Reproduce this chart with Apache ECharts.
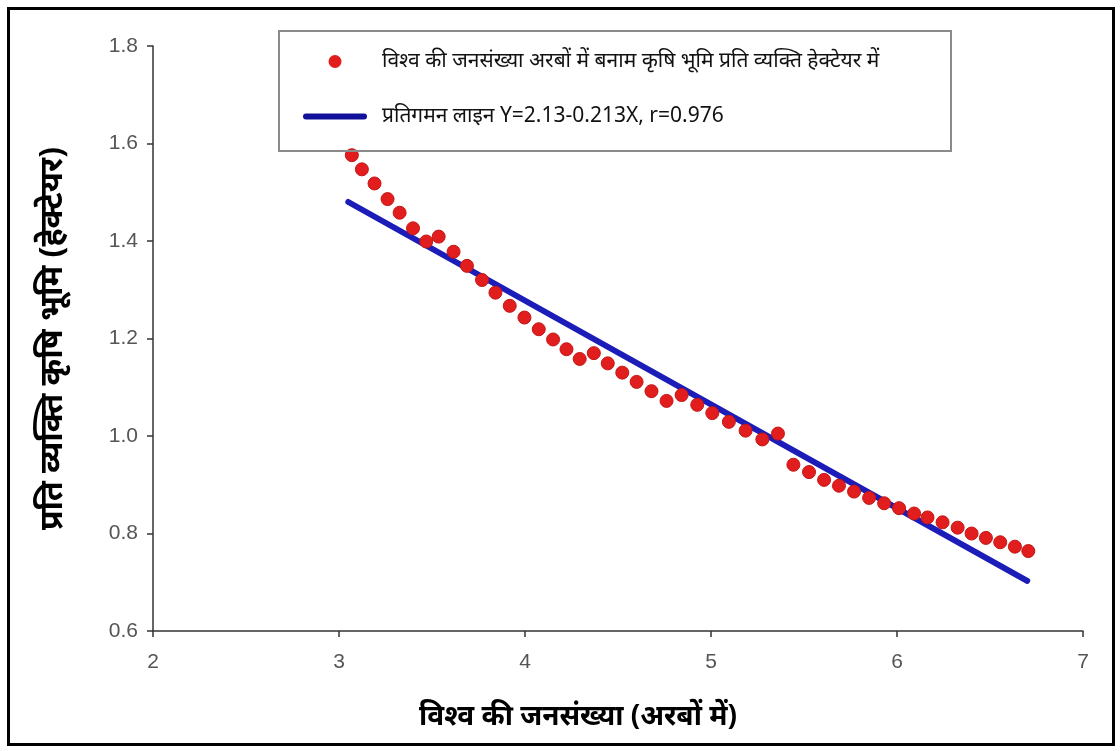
<!DOCTYPE html>
<html>
<head>
<meta charset="utf-8">
<script src="https://cdn.jsdelivr.net/npm/echarts@6/dist/echarts.min.js"></script>
<style>
html,body{margin:0;padding:0;background:#fff;}
#c{width:1120px;height:751px;}
</style>
</head>
<body>
<div id="c"></div>
<script>
// Data
var populationBillions = [3.069,3.123,3.191,3.261,3.326,3.398,3.469,3.536,3.616,3.688,3.769,3.841,3.918,3.997,4.074,4.151,4.223,4.294,4.370,4.445,4.523,4.600,4.680,4.761,4.842,4.926,5.007,5.096,5.186,5.276,5.360,5.443,5.527,5.608,5.688,5.769,5.850,5.931,6.011,6.092,6.164,6.245,6.326,6.401,6.478,6.555,6.634,6.706];
var landPerCapita = [1.576,1.547,1.518,1.486,1.458,1.426,1.399,1.409,1.378,1.349,1.320,1.294,1.267,1.243,1.219,1.198,1.178,1.158,1.170,1.149,1.130,1.111,1.092,1.072,1.084,1.064,1.047,1.029,1.011,0.993,1.005,0.941,0.926,0.910,0.898,0.886,0.873,0.862,0.852,0.841,0.833,0.823,0.812,0.800,0.791,0.782,0.773,0.764];
var regressionX = [3.05, 6.70];
var regressionY = [1.480, 0.703];
var xTicks = [2,3,4,5,6,7];
var yTicks = [0.6,0.8,1.0,1.2,1.4,1.6,1.8];

var scatterName = 'विश्व की जनसंख्या अरबों में बनाम कृषि भूमि प्रति व्यक्ति हेक्टेयर में';
var lineName = 'प्रतिगमन लाइन Y=2.13-0.213X, r=0.976';
var xTitle = 'विश्व की जनसंख्या (अरबों में)';
var yTitle = 'प्रति व्यक्ति कृषि भूमि (हेक्टेयर)';

var scatterData = populationBillions.map(function(x,i){return [x, landPerCapita[i]];});
var lineData = regressionX.map(function(x,i){return [x, regressionY[i]];});

var FONT = '"Noto Sans", "Noto Sans Devanagari", "Lohit Devanagari", sans-serif';
var LINE_ICON = 'path://M0,0L0.01,0L0.01,0.01L0,0.01Z M3,3.5L61,3.5A3,3 0 0 1 61,9.5L3,9.5A3,3 0 0 1 3,3.5Z M63.99,12.99L64,12.99L64,13L63.99,13Z';
var chart = echarts.init(document.getElementById('c'), null, {renderer:'canvas'});
chart.setOption({
  backgroundColor:'#ffffff',
  animation:false,
  grid:{left:153, right:37, top:46, bottom:120, containLabel:false},
  xAxis:{
    type:'value', min:xTicks[0], max:xTicks[xTicks.length-1], interval:1,
    axisLine:{show:true, lineStyle:{color:'#333', width:1.5}},
    axisTick:{show:true, inside:false, length:6, lineStyle:{color:'#333', width:1.5}},
    splitLine:{show:false},
    axisLabel:{color:'#555', fontSize:21, fontFamily:'"Liberation Sans", Arial, sans-serif', margin:21},
    name:xTitle, nameLocation:'middle', nameGap:72,
    nameTextStyle:{color:'#000', fontSize:28, fontWeight:'bold', fontFamily:FONT, padding:[0,80,0,0]}
  },
  yAxis:{
    type:'value', min:yTicks[0], max:yTicks[yTicks.length-1], interval:0.2,
    axisLine:{show:true, lineStyle:{color:'#333', width:1.5}},
    axisTick:{show:true, inside:false, length:6, lineStyle:{color:'#333', width:1.5}},
    splitLine:{show:false},
    axisLabel:{color:'#555', fontSize:21, fontFamily:'"Liberation Sans", Arial, sans-serif', margin:15,
      formatter:function(v){return v.toFixed(1);}},
    name:yTitle, nameLocation:'middle', nameGap:84, nameRotate:90,
    nameTextStyle:{color:'#000', fontSize:32, fontWeight:'bold', fontFamily:FONT}
  },
  legend:{
    orient:'vertical', left:298, top:46, itemWidth:64, itemHeight:13, itemGap:34,
    textStyle:{fontSize:21, color:'#111', fontFamily:FONT, padding:[0,0,0,10]},
    data:[
      {name:scatterName, icon:'circle', itemStyle:{opacity:1, color:'#e21d1d', borderWidth:0}},
      {name:lineName, icon:LINE_ICON, itemStyle:{color:'#10109a', borderWidth:0}}
    ]
  },
  graphic:[
    {type:'rect', left:278, top:30, shape:{width:672, height:120}, style:{fill:'rgba(0,0,0,0)', stroke:'#8a8a8a', lineWidth:2}, z:100, silent:true},
    {type:'rect', left:7, top:7, shape:{width:1105, height:736}, style:{fill:'rgba(0,0,0,0)', stroke:'#000', lineWidth:3}, z:100, silent:true}
  ],
  series:[
    {name:scatterName, type:'scatter', data:scatterData, symbol:'circle', symbolSize:13,
      itemStyle:{color:'#e21d1d', opacity:1, borderColor:'#c41616', borderWidth:1}, z:3},
    {name:lineName, type:'line', data:lineData, showSymbol:false, symbol:'none',
      lineStyle:{color:'#1c1cb8', width:6, cap:'round'}, itemStyle:{color:'#1c1cb8'}, z:2}
  ]
});
</script>
</body>
</html>
